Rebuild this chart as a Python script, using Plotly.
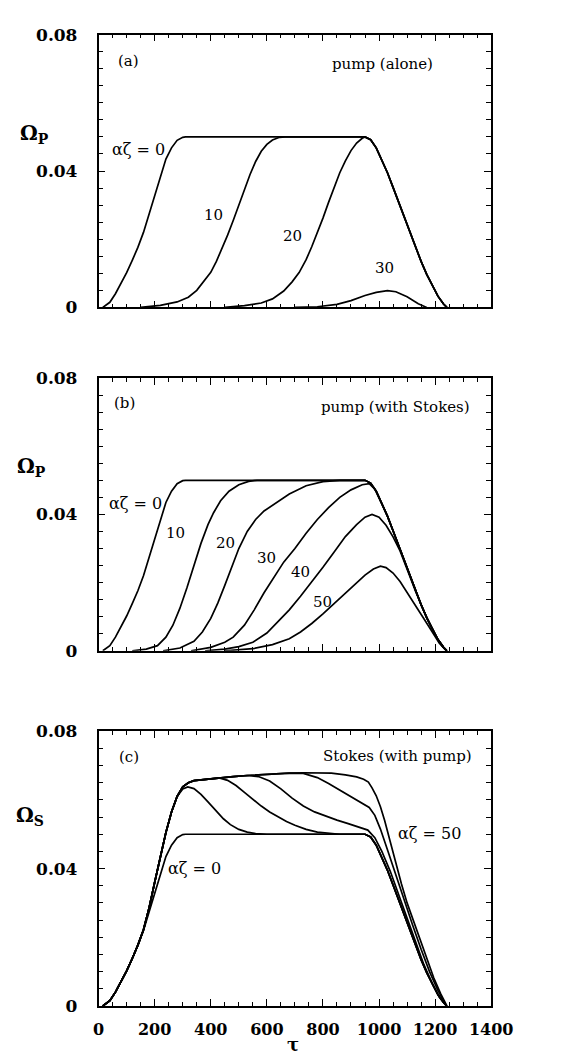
import numpy as np
import plotly.graph_objects as go

# ---------------- data ----------------
# common input pulse (alpha*zeta = 0): rising edge and falling edge
RISE_T = [15, 40, 60, 80, 100, 120, 140, 160, 180, 200, 220, 240, 260, 280, 300, 310]
RISE_W = [0, .0015, .0040, .0070, .0102, .0138, .0176, .0220, .0275, .0330, .0385, .0435, .0468, .0490, .0499, .0500]
FALL_T = [950, 970, 990, 1010, 1030, 1050, 1070, 1090, 1110, 1130, 1150, 1170, 1190, 1210, 1230, 1242]
FALL_W = [.0500, .0492, .0468, .0432, .0395, .0352, .0308, .0263, .0218, .0175, .0135, .0097, .0063, .0033, .0010, 0]

# (a) pump alone
A10_T = [150, 220, 280, 320, 350, 375, 400, 420, 440, 460, 480, 500, 520, 540, 560, 580, 600, 620, 645, 665]
A10_W = [0, .0006, .0016, .0030, .0050, .0075, .0103, .0135, .0172, .0212, .0255, .0300, .0345, .0390, .0428, .0458, .0478, .0491, .0499, .0500]
A20_T = [450, 520, 580, 620, 660, 690, 715, 740, 760, 780, 800, 820, 840, 860, 880, 900, 920, 940]
A20_W = [0, .0005, .0013, .0025, .0048, .0075, .0102, .0140, .0178, .0218, .0262, .0308, .0352, .0395, .0430, .0460, .0482, .0496]
A30_T = [700, 780, 850, 900, 950, 990, 1030, 1060, 1100, 1140, 1170]
A30_W = [0, .0002, .0009, .0020, .0035, .0044, .0049, .0046, .0031, .0011, 0]

# (b) pump with Stokes
B10_T = [120, 170, 210, 240, 265, 290, 315, 340, 365, 390, 410, 435, 465, 500, 535, 565]
B10_W = [0, .0005, .0015, .0040, .0075, .0125, .0185, .0250, .0315, .0370, .0405, .0440, .0468, .0487, .0497, .0500]
B20_T = [230, 290, 340, 370, 400, 425, 450, 475, 500, 530, 560, 590, 630, 680, 740, 800, 860]
B20_W = [0, .0008, .0028, .0055, .0095, .0140, .0192, .0248, .0300, .0350, .0385, .0410, .0432, .0460, .0484, .0496, .0500]
B30_T = [330, 400, 450, 480, 520, 555, 590, 625, 660, 700, 740, 780, 820, 860, 900, 940, 965, 985]
B30_W = [0, .0010, .0025, .0040, .0075, .0120, .0170, .0215, .0260, .0300, .0345, .0385, .0420, .0450, .0472, .0487, .0490, .0474]
B40_T = [380, 450, 500, 550, 600, 640, 680, 720, 760, 800, 840, 880, 920, 950, 975, 1000, 1025, 1050, 1075]
B40_W = [0, .0005, .0012, .0025, .0052, .0085, .0120, .0160, .0202, .0245, .0290, .0335, .0370, .0392, .0400, .0392, .0368, .0334, .0293]
B50_T = [450, 550, 620, 680, 720, 760, 800, 840, 880, 920, 950, 980, 1005, 1025, 1050, 1075, 1100, 1130, 1160, 1190, 1215, 1240]
B50_W = [0, .0006, .0018, .0035, .0055, .0080, .0108, .0138, .0168, .0200, .0222, .0240, .0248, .0244, .0228, .0203, .0172, .0132, .0094, .0055, .0022, 0]

# (c) Stokes with pump: shared steeper rise of alpha*zeta >= 10 and upper envelope
UP_T = [15, 40, 60, 80, 100, 120, 140, 160, 180, 200, 220, 240, 260, 280]
UP_W = [0, .0015, .0040, .0070, .0102, .0138, .0177, .0222, .0285, .0360, .0435, .0505, .0565, .0610]
TOP_T = [300, 320, 340, 380, 430, 480, 530, 580, 630, 680, 730, 780, 830, 880, 920, 945, 962]
TOP_W = [.0638, .0650, .0656, .0660, .0664, .0668, .0671, .0674, .0676, .0678, .0679, .0679, .0678, .0673, .0667, .0660, .0652]
C10_T = [300, 318, 340, 365, 390, 420, 445, 470, 500, 530, 560, 600]
C10_W = [.0632, .0638, .0633, .0616, .0594, .0566, .0545, .0528, .0514, .0506, .0502, .0500]
C20_T = [460, 490, 520, 550, 580, 610, 640, 670, 700, 740, 780, 820, 860]
C20_W = [.0657, .0642, .0622, .0602, .0582, .0565, .0550, .0537, .0526, .0514, .0506, .0502, .0500]
C30_T = [570, 610, 650, 690, 730, 770, 810, 850, 890, 930, 960, 985, 1010, 1040, 1070, 1100, 1130, 1160, 1190, 1215, 1240]
C30_W = [.0668, .0655, .0632, .0605, .0582, .0565, .0552, .0541, .0531, .0521, .0512, .0490, .0450, .0392, .0325, .0255, .0185, .0120, .0064, .0025, 0]
C40_T = [730, 780, 820, 860, 900, 940, 965, 985, 1005, 1030, 1060, 1090, 1120, 1150, 1180, 1210, 1240]
C40_W = [.0677, .0665, .0648, .0628, .0608, .0590, .0578, .0555, .0515, .0455, .0380, .0305, .0235, .0165, .0100, .0045, 0]
C50_T = [975, 990, 1005, 1020, 1040, 1060, 1080, 1100, 1120, 1145, 1170, 1195, 1220, 1242]
C50_W = [.0635, .0612, .0580, .0540, .0478, .0415, .0355, .0300, .0255, .0195, .0140, .0082, .0035, 0]

X_TICKS = [0, 200, 400, 600, 800, 1000, 1200, 1400]
Y_TICKS = [0, 0.04, 0.08]
Y_TEXT = ["0", "0.04", "0.08"]


def join(*parts):
    t = np.concatenate([np.asarray(p[0], float) for p in parts])
    w = np.concatenate([np.asarray(p[1], float) for p in parts])
    return t, w


def upto(T, W, tmax):
    T = np.asarray(T, float); W = np.asarray(W, float)
    m = T <= tmax
    return T[m], W[m]


def fall_from(t0):
    T = np.asarray(FALL_T, float); W = np.asarray(FALL_W, float)
    m = T >= t0
    return T[m], W[m]


FALL = (FALL_T, FALL_W)

curves = {
    1: [join((RISE_T, RISE_W), FALL),
        join((A10_T, A10_W), FALL),
        join((A20_T, A20_W), FALL),
        join((A30_T, A30_W))],
    2: [join((RISE_T, RISE_W), FALL),
        join((B10_T, B10_W), FALL),
        join((B20_T, B20_W), FALL),
        join((B30_T, B30_W), fall_from(1010)),
        join((B40_T, B40_W), fall_from(1090)),
        join((B50_T, B50_W))],
    3: [join((RISE_T, RISE_W), FALL),
        join((UP_T, UP_W), (C10_T, C10_W), FALL),
        join((UP_T, UP_W), upto(TOP_T, TOP_W, 430), (C20_T, C20_W), FALL),
        join((UP_T, UP_W), upto(TOP_T, TOP_W, 530), (C30_T, C30_W)),
        join((UP_T, UP_W), upto(TOP_T, TOP_W, 680), (C40_T, C40_W)),
        join((UP_T, UP_W), (TOP_T, TOP_W), (C50_T, C50_W))],
}

W_PX, H_PX = 567, 1055
FONT = "DejaVu Serif"
fig = go.Figure()

# panel pixel boxes: (top, bottom)
boxes = {1: (17, 295), 2: (367, 645), 3: (727, 1007)}
XL, XR = 89, 502

for k, lst in curves.items():
    xa = "x" if k == 1 else f"x{k}"
    ya = "y" if k == 1 else f"y{k}"
    for t, w in lst:
        fig.add_trace(go.Scatter(x=t, y=w, mode="lines", xaxis=xa, yaxis=ya,
                                 line=dict(color="black", width=1.7),
                                 showlegend=False, hoverinfo="skip"))

layout = dict(width=W_PX, height=H_PX, margin=dict(l=0, r=0, t=0, b=0),
              paper_bgcolor="white", plot_bgcolor="white", showlegend=False)

for k, (top, bot) in boxes.items():
    xs = "xaxis" if k == 1 else f"xaxis{k}"
    ys = "yaxis" if k == 1 else f"yaxis{k}"
    layout[xs] = dict(domain=[XL / W_PX, XR / W_PX], range=[0, 1400],
                      anchor="y" if k == 1 else f"y{k}",
                      tickvals=X_TICKS, ticks="inside", ticklen=7, tickwidth=1.2,
                      tickcolor="black", showline=True, linecolor="black", linewidth=1.5,
                      mirror="ticks", showgrid=False, zeroline=False,
                      showticklabels=(k == 3), ticklabelstandoff=8,
                      tickfont=dict(family=FONT, size=16, color="black", weight="bold"),
                      minor=dict(dtick=50, tick0=0, ticks="inside", ticklen=4,
                                 tickwidth=1, tickcolor="black", showgrid=False),
                      fixedrange=True)
    layout[ys] = dict(domain=[1 - bot / H_PX, 1 - top / H_PX], range=[0, 0.08],
                      anchor="x" if k == 1 else f"x{k}",
                      tickvals=Y_TICKS, ticktext=Y_TEXT, ticks="inside", ticklen=7,
                      tickwidth=1.2, tickcolor="black", showline=True, linecolor="black",
                      linewidth=1.5, mirror="ticks", showgrid=False, zeroline=False,
                      ticklabelstandoff=16,
                      tickfont=dict(family=FONT, size=17, color="black", weight="bold"),
                      minor=dict(dtick=0.005, tick0=0, ticks="inside", ticklen=5,
                                 tickwidth=1, tickcolor="black", showgrid=False),
                      fixedrange=True)
fig.update_layout(**layout)

ann = []
def A(k, x, y, text, size=15, xanchor="center", weight="normal"):
    xa = "x" if k == 1 else f"x{k}"
    ya = "y" if k == 1 else f"y{k}"
    ann.append(dict(xref=xa, yref=ya, x=x, y=y, text=text, showarrow=False,
                    xanchor=xanchor, yanchor="middle",
                    font=dict(family=FONT, size=size, color="black", weight=weight)))

# panel (a)
A(1, 108, 0.0723, "(a)", 15)
A(1, 1198, 0.0713, "pump (alone)", 15, "right")
A(1, 142, 0.0463, "αζ = 0", 16)
A(1, 409, 0.0270, "10", 15)
A(1, 692, 0.0209, "20", 15)
A(1, 1018, 0.0116, "30", 15)
# panel (b)
A(2, 91, 0.0728, "(b)", 15)
A(2, 1333, 0.0714, "pump (with Stokes)", 15, "right")
A(2, 130, 0.0431, "αζ = 0", 16)
A(2, 274, 0.0345, "10", 15)
A(2, 451, 0.0316, "20", 15)
A(2, 597, 0.0273, "30", 15)
A(2, 720, 0.0230, "40", 15)
A(2, 799, 0.0144, "50", 15)
# panel (c)
A(3, 110, 0.0726, "(c)", 15)
A(3, 1338, 0.0729, "Stokes (with pump)", 15, "right")
A(3, 341, 0.0400, "αζ = 0", 16)
A(3, 1180, 0.0503, "αζ = 50", 16)

# y-axis titles and x title (paper coordinates)
for px, py, sub in [(22, 118, "P"), (18, 458, "P"), (17, 813, "S")]:
    ann.append(dict(xref="paper", yref="paper", x=px / W_PX, y=1 - py / H_PX,
                    text=f"Ω<sub>{sub}</sub>", showarrow=False, xanchor="center", yanchor="middle",
                    font=dict(family=FONT, size=20, color="black", weight="bold")))
ann.append(dict(xref="paper", yref="paper", x=293 / W_PX, y=1 - 1046 / H_PX, text="τ",
                showarrow=False, xanchor="center", yanchor="middle",
                font=dict(family=FONT, size=18, color="black", weight="bold")))
fig.update_layout(annotations=ann)

fig.write_html("out.html")
